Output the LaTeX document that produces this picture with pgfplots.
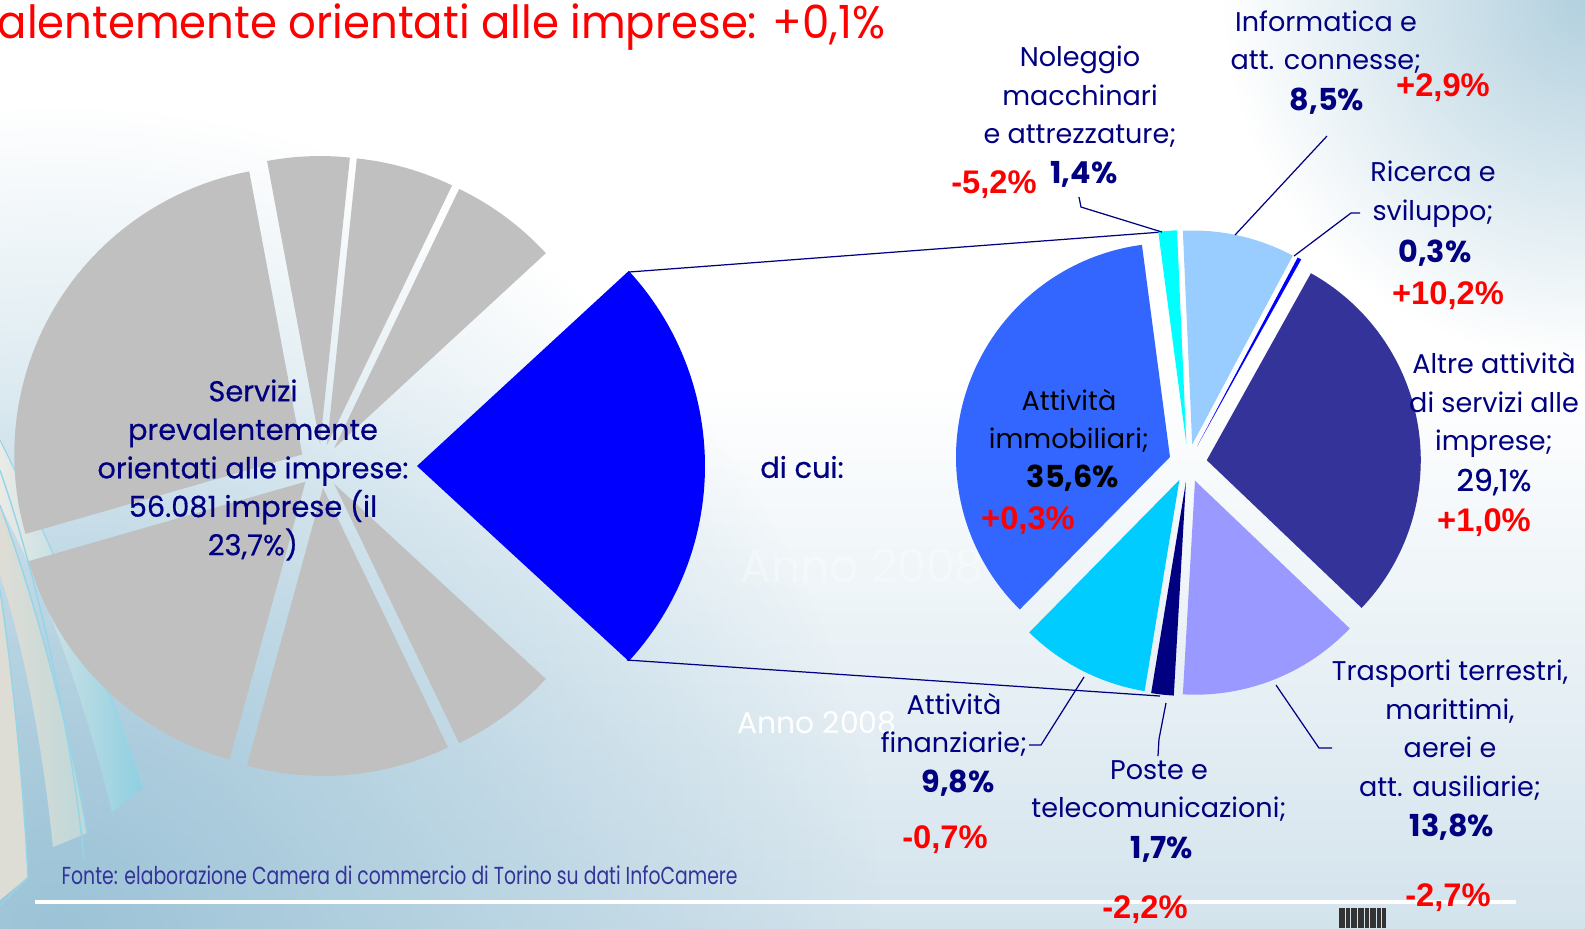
\documentclass[border=0pt]{standalone}
\usepackage{pgfplots}
\pgfplotsset{compat=1.18}
\usepackage{pgfplotstable}
\usetikzlibrary{fadings}
\usepackage{fontspec}
\setmainfont{Poppins}
\newfontfamily\redfont{Liberation Sans}
\newfontfamily\footfont{Poppins}[FakeStretch=0.765]
\newfontfamily\medfont{Poppins}[FakeBold=0.5]
\newfontfamily\titlefont{Poppins}[FakeStretch=0.95]

\tikzfading[name=glow, inner color=transparent!0, outer color=transparent!100]

\definecolor{cInfo}{HTML}{99CCFF}
\definecolor{cRic}{HTML}{0000FF}
\definecolor{cAltre}{HTML}{333399}
\definecolor{cTrasp}{HTML}{9999FF}
\definecolor{cPoste}{HTML}{000080}
\definecolor{cFin}{HTML}{00CCFF}
\definecolor{cImmob}{HTML}{3366FF}
\definecolor{cNoleg}{HTML}{00FFFF}
\definecolor{cSel}{HTML}{0000FF}
\definecolor{cGray}{HTML}{C0C0C0}
\definecolor{navy}{HTML}{000080}
\definecolor{foot}{HTML}{33339A}
\definecolor{bgblue}{HTML}{9CC3D7}
\definecolor{bgtop}{HTML}{B3D1DF}
\definecolor{bgbot}{HTML}{D3E3EC}
\definecolor{swblue}{HTML}{8ECFE1}
\definecolor{swline}{HTML}{95D5E8}
\definecolor{swbeige}{HTML}{DEDDD5}

% secondary pie (di cui), clockwise from the top
\pgfplotstableread{
share explode colour
8.5  19 cInfo
0.3  19 cRic
29.1 19 cAltre
13.8 19 cTrasp
1.7  19 cPoste
9.8  19 cFin
35.6 19 cImmob
1.4  19 cNoleg
}\rightdata

% main pie, counter-clockwise from the selected slice
\pgfplotstableread{
share explode colour
23.7 96 cSel
6.0  22 cGray
5.5  22 cGray
4.6  22 cGray
26.5 22 cGray
16.3 22 cGray
11.4 22 cGray
6.0  22 cGray
}\leftdata

\newcommand\allwedges{}
% #1 table, #2 #3 centre, #4 radius, #5 start angle, #6 +1 ccw / -1 cw
\newcommand\piewedges[6]{%
  \pgfplotstablegetrowsof{#1}%
  \pgfmathtruncatemacro\nrows{\pgfplotsretval-1}%
  \gdef\pietotal{0}%
  \foreach \i in {0,...,\nrows}{%
    \pgfplotstablegetelem{\i}{share}\of#1%
    \pgfmathsetmacro\t{\pietotal+\pgfplotsretval}%
    \xdef\pietotal{\t}%
  }%
  \xdef\pieangle{#5}%
  \foreach \i in {0,...,\nrows}{%
    \pgfplotstablegetelem{\i}{share}\of#1\let\pv\pgfplotsretval
    \pgfplotstablegetelem{\i}{explode}\of#1\let\pe\pgfplotsretval
    \pgfplotstablegetelem{\i}{colour}\of#1\let\pc\pgfplotsretval
    \pgfmathsetmacro\aone{\pieangle}%
    \pgfmathsetmacro\atwo{\pieangle+#6*\pv/\pietotal*360}%
    \pgfmathsetmacro\abis{(\aone+\atwo)/2}%
    \pgfmathsetmacro\wcx{#2+\pe*cos(\abis)}%
    \pgfmathsetmacro\wcy{#3-\pe*sin(\abis)}%
    \pgfmathtruncatemacro\wn{max(4,ceil(abs(\atwo-\aone)/1.5))}%
    \xdef\wpath{(axis cs:\wcx,\wcy)}%
    \foreach \k in {0,...,\wn}{%
      \pgfmathsetmacro\wa{\aone+(\atwo-\aone)*\k/\wn}%
      \pgfmathsetmacro\wx{\wcx+#4*cos(\wa)}%
      \pgfmathsetmacro\wy{\wcy-#4*sin(\wa)}%
      \xdef\wpath{\wpath -- (axis cs:\wx,\wy)}%
    }%
    \xdef\allwedges{\unexpanded\expandafter{\allwedges}\noexpand\fill[\pc] \wpath -- cycle;}%
    \xdef\pieangle{\atwo}%
  }%
}

\begin{document}
\begin{tikzpicture}
\piewedges{\leftdata}{321}{466}{288}{-42.66}{1}
\xdef\leftwedges{\unexpanded\expandafter{\allwedges}}
\gdef\allwedges{}
\piewedges{\rightdata}{1188}{463}{214}{92.5}{-1}
\begin{axis}[
  width=158.5mm, height=92.8mm, scale only axis,
  xmin=0, xmax=1585, ymin=0, ymax=928, y dir=reverse,
  hide axis, clip=false,
]
  % background
  \fill[white] (axis cs:0,0) rectangle (axis cs:1585,928);
  \shade[top color=white, bottom color=bgbot] (axis cs:0,380) rectangle (axis cs:1585,928);
  \fill[bgblue, path fading=glow] (axis cs:60,928) circle[radius=82mm];
  \fill[bgtop, path fading=glow] (axis cs:1585,0) circle[radius=36mm];
  % decorative bands, lower left
  \shade[left color=swbeige!60!white, right color=swblue] (axis cs:0,440) .. controls (axis cs:60,560) and (axis cs:110,690) .. (axis cs:143,788)
    -- (axis cs:112,812) .. controls (axis cs:85,700) and (axis cs:45,590) .. (axis cs:0,505) -- cycle;
  \draw[swline, line width=0.3pt] (axis cs:0,440) .. controls (axis cs:60,560) and (axis cs:110,690) .. (axis cs:143,788);
  \shade[left color=swbeige, right color=swbeige!60!swblue] (axis cs:0,505) .. controls (axis cs:35,600) and (axis cs:70,730) .. (axis cs:87,833)
    -- (axis cs:53,847) .. controls (axis cs:42,740) and (axis cs:22,640) .. (axis cs:0,575) -- cycle;
  \draw[swline, line width=0.4pt] (axis cs:0,505) .. controls (axis cs:35,600) and (axis cs:70,730) .. (axis cs:87,833);
  \draw[swline, line width=0.4pt] (axis cs:0,470) .. controls (axis cs:45,600) and (axis cs:75,760) .. (axis cs:84,860);
  \fill[swbeige] (axis cs:0,590) .. controls (axis cs:15,690) and (axis cs:24,800) .. (axis cs:28,877)
    -- (axis cs:0,900) -- cycle;
  \draw[swline, line width=0.4pt] (axis cs:0,590) .. controls (axis cs:15,690) and (axis cs:24,800) .. (axis cs:28,877) -- (axis cs:0,905);
  % footer rule
  \draw[white, line width=0.9pt] (axis cs:35,902) -- (axis cs:1516,902);
  % ghost captions
  \node[white, opacity=0.35, font=\fontsize{13}{15}\selectfont] at (axis cs:862,566) {Anno 2008};
  \node[white, font=\fontsize{8.5}{10}\selectfont] at (axis cs:817,723) {Anno 2008};
  % main pie
  \leftwedges
  % connectors
  \draw[navy, line width=0.35pt] (axis cs:629,272) -- (axis cs:1162,232);
  \draw[navy, line width=0.35pt] (axis cs:627,660) -- (axis cs:1160,696);
  % secondary pie
  \allwedges
  % leader lines
  \draw[navy, line width=0.35pt] (axis cs:1079,197) -- (axis cs:1081,207) -- (axis cs:1162,232);
  \draw[navy, line width=0.35pt] (axis cs:1327,136) -- (axis cs:1235,235);
  \draw[navy, line width=0.35pt] (axis cs:1360,213) -- (axis cs:1351,213) -- (axis cs:1294,256);
  \draw[navy, line width=0.35pt] (axis cs:1276,685) -- (axis cs:1319,748) -- (axis cs:1332,748);
  \draw[navy, line width=0.35pt] (axis cs:1166,703) -- (axis cs:1159,739) -- (axis cs:1158,756);
  \draw[navy, line width=0.35pt] (axis cs:1029,745) -- (axis cs:1041,745) -- (axis cs:1084,677);
  % title
  \node[anchor=base west, red, inner sep=0pt, font=\titlefont\fontsize{13}{15}\selectfont]
    at (axis cs:-3,38) {alentemente orientati alle imprese: +0,1\%};
  % main pie label
  \node[navy, align=center, font=\medfont\fontsize{8.2}{10.95}\selectfont] at (axis cs:253,470)
    {Servizi\\prevalentemente\\orientati alle imprese:\\56.081 imprese (il\\23,7\%)};
  \node[navy, font=\medfont\fontsize{8.2}{10.95}\selectfont] at (axis cs:802,467) {di cui:};
  % secondary labels
  \tikzset{lbl/.style={navy, align=center, inner sep=0pt, font=\fontsize{7.7}{10.95}\selectfont},
           pct/.style={navy, inner sep=0pt, font=\bfseries\fontsize{8.6}{10}\selectfont},
           chg/.style={red, inner sep=0pt, font=\redfont\bfseries\fontsize{9.3}{10}\selectfont}}
  \node[lbl] at (axis cs:1080,97) {Noleggio\\macchinari\\e attrezzature;};
  \node[pct] at (axis cs:1084,174) {1,4\%};
  \node[chg] at (axis cs:994,185) {-5,2\%};
  \node[lbl] at (axis cs:1326,42) {Informatica e\\att. connesse;};
  \node[pct] at (axis cs:1327,101) {8,5\%};
  \node[chg] at (axis cs:1443,88) {+2,9\%};
  \node[lbl] at (axis cs:1433,194) {Ricerca e\\sviluppo;};
  \node[pct] at (axis cs:1435,253) {0,3\%};
  \node[chg] at (axis cs:1448,296) {+10,2\%};
  \node[lbl] at (axis cs:1494,405) {Altre attività\\di servizi alle\\imprese;};
  \node[navy, inner sep=0pt, font=\medfont\fontsize{8.6}{10}\selectfont] at (axis cs:1494,482) {29,1\%};
  \node[chg] at (axis cs:1484,523) {+1,0\%};
  \node[lbl, black] at (axis cs:1069,421) {Attività\\immobiliari;};
  \node[pct, black] at (axis cs:1073,478) {35,6\%};
  \node[chg] at (axis cs:1028,521) {+0,3\%};
  \node[lbl] at (axis cs:1450,730) {Trasporti terrestri,\\marittimi,\\aerei e\\att. ausiliarie;};
  \node[pct] at (axis cs:1452,827) {13,8\%};
  \node[chg] at (axis cs:1448,898) {-2,7\%};
  \node[lbl] at (axis cs:1159,791) {Poste e\\telecomunicazioni;};
  \node[pct] at (axis cs:1162,849) {1,7\%};
  \node[chg] at (axis cs:1145,910) {-2,2\%};
  \node[lbl] at (axis cs:954,725) {Attività\\finanziarie;};
  \node[pct] at (axis cs:958,783) {9,8\%};
  \node[chg] at (axis cs:945,840) {-0,7\%};
  % source
  \node[anchor=west, foot, inner sep=0pt, font=\footfont\fontsize{7}{8}\selectfont]
    at (axis cs:61,875) {Fonte: elaborazione Camera di commercio di Torino su dati InfoCamere};
  % barcode mark
  \pgfplotsinvokeforeach{1340,1342,1344,1347,1349,1352,1354,1356,1359,1361,1363,1366,1368,1371,1373,1375,1378,1380,1383,1385}{
    \draw[black!80, line width=0.3pt] (axis cs:#1,908) -- (axis cs:#1,928);
  }
\end{axis}
\pgfresetboundingbox
\useasboundingbox (current axis.south west) rectangle (current axis.north east);
\end{tikzpicture}
\end{document}
